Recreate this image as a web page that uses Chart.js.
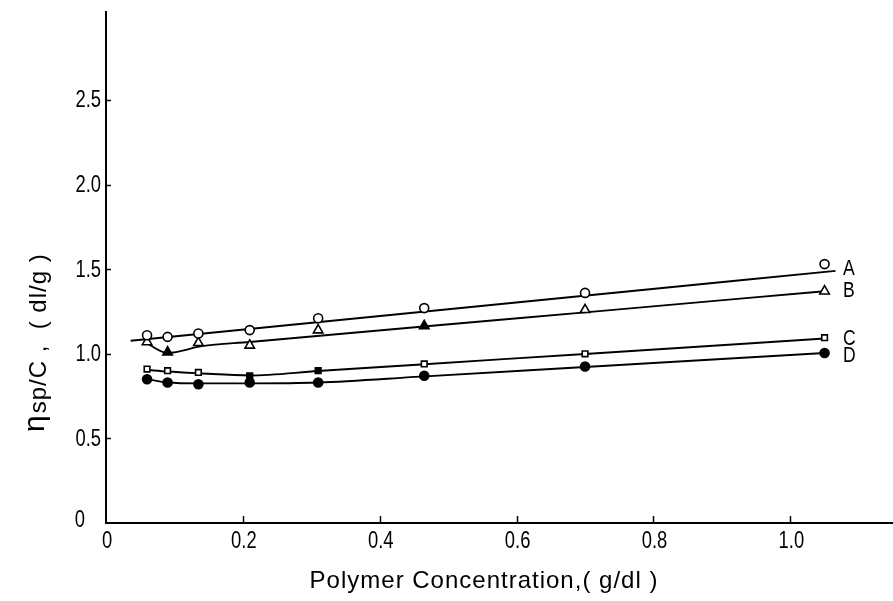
<!DOCTYPE html>
<html>
<head>
<meta charset="utf-8">
<script src="https://cdn.jsdelivr.net/npm/chart.js@4.4.0/dist/chart.umd.min.js"></script>
<style>
  html, body { margin: 0; padding: 0; background: #fff; }
  #wrap { width: 893px; height: 601px; }
</style>
</head>
<body>
<div id="wrap"><canvas id="chart" width="893" height="601"></canvas></div>
<script>
// measured points (g/dl vs dl/g)
const concentration = [0.06, 0.09, 0.135, 0.21, 0.31, 0.465, 0.70, 1.05];
const seriesA = [1.11, 1.10, 1.12, 1.14, 1.21, 1.27, 1.36, 1.53];
const seriesB = [1.07, 1.01, 1.065, 1.05, 1.14, 1.165, 1.26, 1.37];
const seriesC = [0.91, 0.90, 0.89, 0.87, 0.90, 0.94, 1.00, 1.095];
const seriesD = [0.85, 0.83, 0.82, 0.83, 0.83, 0.87, 0.925, 1.005];

// hand-drawn fit curves through the points [x, y]
const curveA = [[0.036, 1.077], [1.066, 1.49]];
const curveB = [[0.055, 1.075], [0.09, 1.005], [0.14, 1.045], [0.21, 1.07], [0.46, 1.16], [0.70, 1.245], [1.05, 1.37]];
const curveC = [[0.06, 0.905], [0.09, 0.895], [0.135, 0.885], [0.21, 0.872], [0.31, 0.898], [0.46, 0.937], [0.70, 0.999], [1.05, 1.09]];
const curveD = [[0.06, 0.85], [0.09, 0.83], [0.135, 0.825], [0.21, 0.825], [0.31, 0.83], [0.46, 0.865], [0.70, 0.922], [1.05, 1.005]];

const seriesNames = ['A', 'B', 'C', 'D'];

const xTickValues = [0, 0.2, 0.4, 0.6, 0.8, 1.0];
const xTickLabels = ['0', '0.2', '0.4', '0.6', '0.8', '1.0'];
const yTickValues = [0, 0.5, 1.0, 1.5, 2.0, 2.5];
const yTickLabels = ['0', '0.5', '1.0', '1.5', '2.0', '2.5'];

// which markers are solid
const solidB = [false, true, false, false, false, true, false, false];
const solidC = [false, false, false, true, true, false, false, false];

const FONT = "'Liberation Sans', Arial, sans-serif";
const SQUEEZE = 0.8;   // the original lettering is narrow

const toXY = (xs, ys) => xs.map((x, i) => ({ x: x, y: ys[i] }));
const toPts = pairs => pairs.map(p => ({ x: p[0], y: p[1] }));
const fills = flags => flags.map(f => f ? '#000' : '#fff');

function curveSet(pairs) {
    return {
        type: 'line',
        data: toPts(pairs),
        borderColor: '#000',
        borderWidth: 1.9,
        pointRadius: 0,
        fill: false,
        tension: 0.4,
        cubicInterpolationMode: 'monotone',
        order: 2
    };
}

function markerSet(ys, style, radius, bg) {
    return {
        type: 'scatter',
        data: toXY(concentration, ys),
        pointStyle: style,
        pointRadius: radius,
        pointBorderWidth: 1.6,
        pointBorderColor: '#000',
        pointBackgroundColor: bg,
        showLine: false,
        order: 1
    };
}

function narrowText(ctx, text, x, y) {
    ctx.save();
    ctx.translate(x, y);
    ctx.scale(SQUEEZE, 1);
    ctx.fillText(text, 0, 0);
    ctx.restore();
}

// tick marks inside the axes, tick labels, axis titles and series letters
const decorations = {
    id: 'decorations',
    afterDatasetsDraw(chart) {
        const { ctx, chartArea, scales: { x, y } } = chart;
        ctx.save();
        ctx.strokeStyle = '#000';
        ctx.fillStyle = '#000';
        ctx.lineWidth = 1.5;
        xTickValues.slice(1).forEach(v => {
            const px = Math.round(x.getPixelForValue(v)) + 0.5;
            ctx.beginPath();
            ctx.moveTo(px, chartArea.bottom);
            ctx.lineTo(px, chartArea.bottom - 7);
            ctx.stroke();
        });
        yTickValues.slice(1).forEach(v => {
            const py = Math.round(y.getPixelForValue(v)) + 0.5;
            ctx.beginPath();
            ctx.moveTo(chartArea.left, py);
            ctx.lineTo(chartArea.left + 5, py);
            ctx.stroke();
        });

        ctx.font = '23px ' + FONT;
        ctx.textBaseline = 'middle';
        ctx.textAlign = 'center';
        xTickValues.forEach((v, i) => {
            narrowText(ctx, xTickLabels[i], x.getPixelForValue(v) + 1, chartArea.bottom + 19);
        });
        ctx.textAlign = 'right';
        yTickValues.forEach((v, i) => {
            const right = v === 0 ? 85 : 101;
            narrowText(ctx, yTickLabels[i], right, y.getPixelForValue(v) + (v === 0 ? -2 : 1));
        });

        // series letters next to the curve ends
        ctx.font = '22px ' + FONT;
        ctx.textAlign = 'left';
        [curveA, curveB, curveC, curveD].forEach((c, i) => {
            const last = c[c.length - 1];
            const py = y.getPixelForValue(last[1]);
            narrowText(ctx, seriesNames[i], 843, py + (i === 0 ? -2 : i === 3 ? 3 : 0));
        });

        // x title
        ctx.font = '24px ' + FONT;
        ctx.textAlign = 'center';
        ctx.letterSpacing = '1px';
        ctx.fillText('Polymer Concentration,( g/dl )', 484, 581);

        // y title, rotated
        ctx.translate(36, 432);
        ctx.rotate(-Math.PI / 2);
        ctx.textAlign = 'left';
        ctx.letterSpacing = '0px';
        ctx.font = '30px ' + FONT;
        ctx.fillText('\u03b7', 0, 0);
        const off = ctx.measureText('\u03b7').width + 2;
        ctx.font = '24px ' + FONT;
        ctx.letterSpacing = '1px';
        ctx.fillText('sp/C ,  ( dl/g )', off, 3);
        ctx.restore();
    }
};

const ctx = document.getElementById('chart');
new Chart(ctx, {
    type: 'scatter',
    data: {
        datasets: [
            markerSet(seriesA, 'circle', 4.5, '#fff'),
            markerSet(seriesB, 'triangle', 5.5, fills(solidB)),
            markerSet(seriesC, 'rect', 4, fills(solidC)),
            markerSet(seriesD, 'circle', 4.5, '#000'),
            curveSet(curveA),
            curveSet(curveB),
            curveSet(curveC),
            curveSet(curveD)
        ]
    },
    options: {
        responsive: false,
        animation: false,
        devicePixelRatio: 1,
        layout: { autoPadding: false, padding: { top: 12, right: 0, left: 0, bottom: 0 } },
        plugins: {
            legend: { display: false },
            tooltip: { enabled: false }
        },
        scales: {
            x: {
                type: 'linear',
                min: 0,
                max: 1.15,
                afterBuildTicks: s => { s.ticks = xTickValues.map(v => ({ value: v })); },
                afterFit: s => { s.height = 78; s.paddingLeft = 0; s.paddingRight = 0; },
                grid: { display: true, drawOnChartArea: false, drawTicks: false },
                border: { display: true, color: '#000', width: 2 },
                ticks: { display: false }
            },
            y: {
                type: 'linear',
                min: 0,
                max: 3.02,
                afterBuildTicks: s => { s.ticks = yTickValues.map(v => ({ value: v })); },
                afterFit: s => { s.width = 106; s.paddingTop = 0; s.paddingBottom = 0; },
                grid: { display: true, drawOnChartArea: false, drawTicks: false },
                border: { display: true, color: '#000', width: 2 },
                ticks: { display: false }
            }
        }
    },
    plugins: [decorations]
});
</script>
</body>
</html>
